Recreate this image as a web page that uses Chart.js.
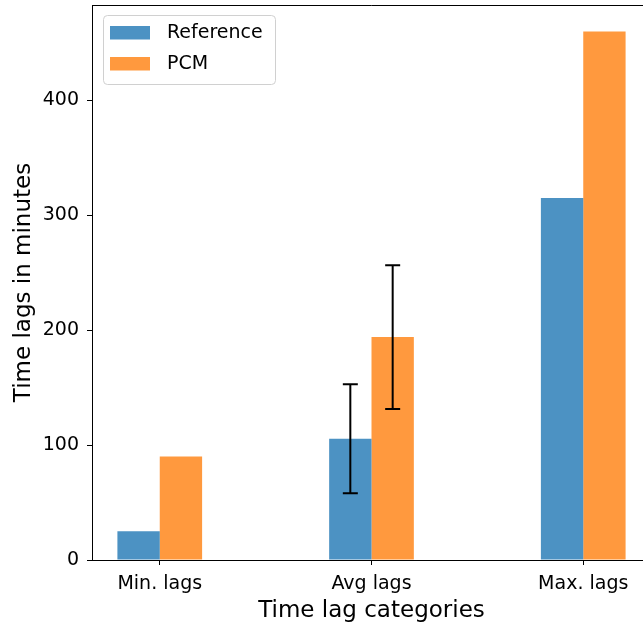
<!DOCTYPE html>
<html>
<head>
<meta charset="utf-8">
<script src="https://cdn.jsdelivr.net/npm/chart.js@4.4.0/dist/chart.umd.min.js"></script>
<style>
  html, body { margin: 0; padding: 0; background: #fff; overflow: hidden; }
  #wrap { width: 660px; height: 625px; }
</style>
</head>
<body>
<div id="wrap"><canvas id="myChart" width="660" height="625"></canvas></div>
<script>
'use strict';
var categories = ['Min. lags', 'Avg lags', 'Max. lags'];
var seriesNames = ['Reference', 'PCM'];
var referenceLags = [25, 105.5, 315];
var pcmLags = [90, 194, 460];
var referenceErr = [null, 47.5, null];
var pcmErr = [null, 62.5, null];
var yTicks = [0, 100, 200, 300, 400];
var seriesColors = ['rgba(31,119,180,0.8)', 'rgba(255,127,14,0.8)'];

var FONT = "'DejaVu Sans', sans-serif";

function toPoints(values) {
  return values.map(function (v, i) { return { x: i, y: v }; });
}

// top and right spines, like matplotlib's full box
var frameBox = {
  id: 'frameBox',
  afterDraw: function (chart) {
    var ctx = chart.ctx;
    var area = chart.chartArea;
    ctx.save();
    ctx.strokeStyle = '#000';
    ctx.lineWidth = 1;
    ctx.beginPath();
    ctx.moveTo(area.left, area.top + 0.5);
    ctx.lineTo(area.right + 0.5, area.top + 0.5);
    ctx.lineTo(area.right + 0.5, area.bottom);
    ctx.stroke();
    ctx.restore();
  }
};

// draws the black error bars on top of the bars
var errorBars = {
  id: 'errorBars',
  afterDatasetsDraw: function (chart) {
    var ctx = chart.ctx;
    var yScale = chart.scales.y;
    ctx.save();
    ctx.strokeStyle = '#000';
    ctx.lineWidth = 2;
    chart.data.datasets.forEach(function (ds, d) {
      var meta = chart.getDatasetMeta(d);
      ds.errors.forEach(function (err, i) {
        if (err === null) return;
        var bar = meta.data[i];
        var v = ds.data[i].y;
        var top = yScale.getPixelForValue(v + err);
        var bot = yScale.getPixelForValue(v - err);
        ctx.beginPath();
        ctx.moveTo(bar.x, top);
        ctx.lineTo(bar.x, bot);
        ctx.moveTo(bar.x - 7.5, top);
        ctx.lineTo(bar.x + 7.5, top);
        ctx.moveTo(bar.x - 7.5, bot);
        ctx.lineTo(bar.x + 7.5, bot);
        ctx.stroke();
      });
    });
    ctx.restore();
  }
};

// matplotlib style legend box in the upper left corner
var boxLegend = {
  id: 'boxLegend',
  afterDraw: function (chart) {
    var ctx = chart.ctx;
    var area = chart.chartArea;
    var x0 = area.left + 11;
    var y0 = area.top + 10;
    ctx.save();
    ctx.beginPath();
    ctx.roundRect(x0 + 0.5, y0 + 0.5, 172, 69, 4);
    ctx.fillStyle = 'rgba(255,255,255,0.8)';
    ctx.fill();
    ctx.strokeStyle = '#d0d0d0';
    ctx.lineWidth = 1;
    ctx.stroke();
    ctx.font = '19px ' + FONT;
    ctx.textBaseline = 'middle';
    ctx.textAlign = 'left';
    chart.data.datasets.forEach(function (ds, d) {
      var py = y0 + 11 + d * 31;
      ctx.fillStyle = ds.backgroundColor;
      ctx.fillRect(x0 + 7, py, 40, 13.5);
      ctx.fillStyle = '#000';
      ctx.fillText(ds.label, x0 + 64, py + 7);
    });
    ctx.restore();
  }
};

var ctx = document.getElementById('myChart').getContext('2d');
var lagChart = new Chart(ctx, {
  type: 'bar',
  data: {
    datasets: [{
      label: seriesNames[0],
      data: toPoints(referenceLags),
      errors: referenceErr,
      backgroundColor: seriesColors[0],
      borderWidth: 0
    }, {
      label: seriesNames[1],
      data: toPoints(pcmLags),
      errors: pcmErr,
      backgroundColor: seriesColors[1],
      borderWidth: 0
    }]
  },
  options: {
    responsive: false,
    animation: false,
    devicePixelRatio: 1,
    categoryPercentage: 0.4,
    barPercentage: 1.0,
    layout: { padding: { top: 5, right: 9, left: 0, bottom: 0 } },
    plugins: {
      legend: { display: false },
      tooltip: { enabled: false }
    },
    scales: {
      x: {
        type: 'linear',
        min: -0.32,
        max: 2.32,
        offset: false,
        afterBuildTicks: function (scale) {
          scale.ticks = categories.map(function (c, i) { return { value: i }; });
        },
        afterFit: function (scale) {
          scale.height = 65;
          scale.paddingLeft = 0;
          scale.paddingRight = 0;
        },
        ticks: {
          autoSkip: false,
          maxRotation: 0,
          padding: 8,
          color: '#000',
          font: { family: FONT, size: 19 },
          callback: function (v) { return categories[v]; }
        },
        grid: { drawOnChartArea: false, offset: false, tickLength: 5, color: '#000' },
        border: { color: '#000', width: 1 },
        title: {
          display: true,
          text: 'Time lag categories',
          color: '#000',
          font: { family: FONT, size: 23 },
          padding: { top: 0, bottom: 0 }
        }
      },
      y: {
        min: 0,
        max: 483,
        afterBuildTicks: function (scale) {
          scale.ticks = yTicks.map(function (v) { return { value: v }; });
        },
        afterFit: function (scale) {
          scale.width = 92;
          scale.paddingTop = 0;
          scale.paddingBottom = 0;
        },
        ticks: {
          padding: 8,
          color: '#000',
          font: { family: FONT, size: 19 }
        },
        grid: { drawOnChartArea: false, tickLength: 5, color: '#000' },
        border: { color: '#000', width: 1 },
        title: {
          display: true,
          text: 'Time lags in minutes',
          color: '#000',
          font: { family: FONT, size: 23 },
          padding: { top: 10, bottom: 0 }
        }
      }
    }
  },
  plugins: [frameBox, errorBars, boxLegend]
});
</script>
</body>
</html>
